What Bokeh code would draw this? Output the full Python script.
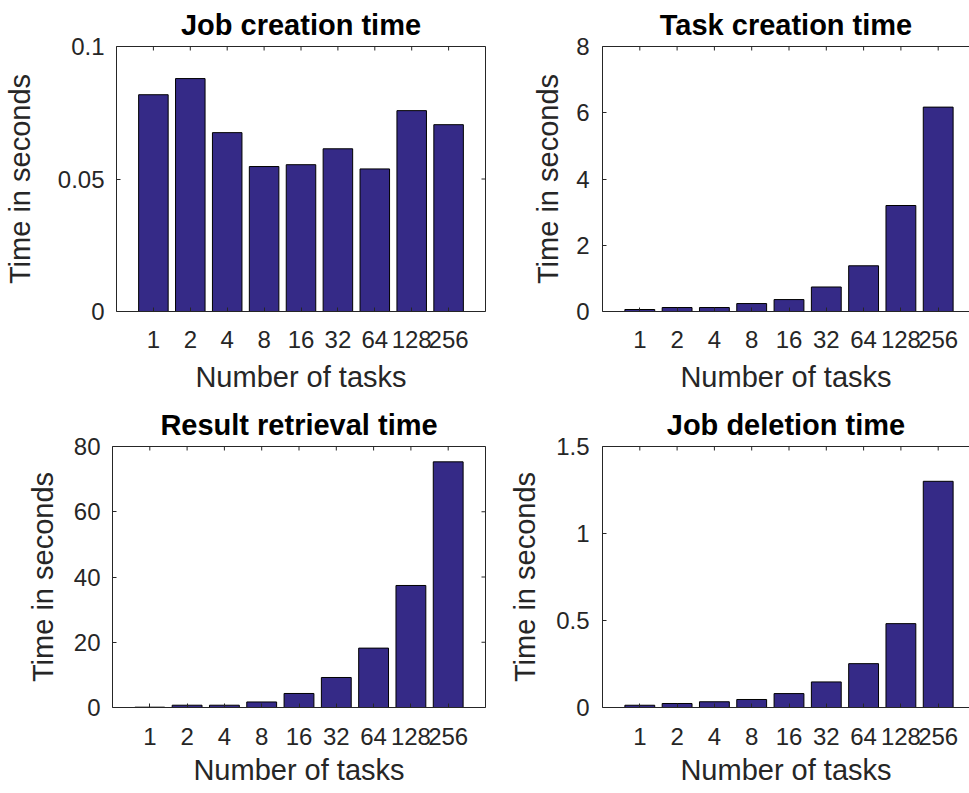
import math
from bokeh.plotting import figure
from bokeh.models import FixedTicker, LinearAxis, Range1d
from bokeh.layouts import column, row
from bokeh.embed import file_html
from bokeh.resources import INLINE

# ---------------- data ----------------
tasks = ["1", "2", "4", "8", "16", "32", "64", "128", "256"]

job_creation = [0.0818, 0.0879, 0.0675, 0.0547, 0.0554, 0.0614, 0.0538, 0.0758, 0.0705]
task_creation = [0.06, 0.12, 0.12, 0.24, 0.36, 0.74, 1.38, 3.20, 6.17]
result_retrieval = [0.1, 0.7, 0.7, 1.7, 4.3, 9.2, 18.2, 37.4, 75.3]
job_deletion = [0.013, 0.023, 0.033, 0.046, 0.080, 0.147, 0.252, 0.482, 1.30]

job_creation_ticks = [0, 0.05, 0.1]
job_creation_labels = ["0", "0.05", "0.1"]
task_creation_ticks = [0, 2, 4, 6, 8]
task_creation_labels = ["0", "2", "4", "6", "8"]
result_retrieval_ticks = [0, 20, 40, 60, 80]
result_retrieval_labels = ["0", "20", "40", "60", "80"]
job_deletion_ticks = [0, 0.5, 1, 1.5]
job_deletion_labels = ["0", "0.5", "1", "1.5"]

titles = ["Job creation time", "Task creation time",
          "Result retrieval time", "Job deletion time"]
x_title = "Number of tasks"
y_title = "Time in seconds"

# ---------------- style ----------------
BAR = "#352a87"
AX = "#262626"
FONT = "Liberation Sans"
TICK_FS = "24px"
LABEL_FS = "29px"
TITLE_FS = "29px"

positions = list(range(1, len(tasks) + 1))
x_overrides = {p: t for p, t in zip(positions, tasks)}


def style_axis(ax):
    ax.axis_line_color = AX
    ax.axis_line_width = 1
    ax.major_tick_line_color = AX
    ax.major_tick_in = 4
    ax.major_tick_out = 0
    ax.minor_tick_line_color = None
    ax.major_label_text_font = FONT
    ax.major_label_text_font_size = TICK_FS
    ax.major_label_text_color = AX
    ax.axis_label_text_font = FONT
    ax.axis_label_text_font_size = LABEL_FS
    ax.axis_label_text_font_style = "normal"
    ax.axis_label_text_color = AX


def panel(title, values, yticks, ylabels, width, height, left, right, top, bottom,
          x_end, right_axis, ytick_so, ylabel_so, xtick_so, xlabel_so):
    p = figure(width=width, height=height,
               x_range=Range1d(0, x_end),
               y_range=Range1d(yticks[0], yticks[-1]),
               output_backend="svg", toolbar_location=None,
               min_border_left=left, min_border_right=right,
               min_border_top=top, min_border_bottom=bottom)
    p.outline_line_color = None
    p.background_fill_color = "white"
    p.border_fill_color = "white"
    p.xgrid.visible = False
    p.ygrid.visible = False

    p.vbar(x=positions, top=values, bottom=0, width=0.8,
           fill_color=BAR, line_color="black", line_width=1)

    xa = p.xaxis[0]
    style_axis(xa)
    xa.ticker = FixedTicker(ticks=positions)
    xa.major_label_overrides = x_overrides
    xa.major_label_standoff = xtick_so
    xa.axis_label = x_title
    xa.axis_label_standoff = xlabel_so

    ya = p.yaxis[0]
    style_axis(ya)
    ya.ticker = FixedTicker(ticks=yticks)
    ya.major_label_overrides = {t: l for t, l in zip(yticks, ylabels)}
    ya.major_label_standoff = ytick_so
    ya.axis_label = y_title
    ya.axis_label_standoff = ylabel_so

    # box lines (top, and right where visible) without labels
    top_ax = LinearAxis(ticker=FixedTicker(ticks=[]))
    style_axis(top_ax)
    top_ax.major_label_standoff = 0
    p.add_layout(top_ax, "above")
    # inward tick marks on the top edge (clipped to the frame)
    p.scatter(x=positions, y=[yticks[-1]] * len(positions), marker="dash",
              angle=math.pi / 2, size=8, line_color=AX, line_width=1)

    if right_axis:
        r_ax = LinearAxis(ticker=FixedTicker(ticks=[]))
        style_axis(r_ax)
        r_ax.major_label_standoff = 0
        p.add_layout(r_ax, "right")
        p.scatter(x=[x_end] * len(yticks), y=yticks, marker="dash",
                  size=8, line_color=AX, line_width=1)

    p.title.text = title
    p.title.align = "center"
    p.title.text_font = FONT
    p.title.text_font_size = TITLE_FS
    p.title.text_font_style = "bold"
    p.title.text_color = "black"
    p.title.standoff = 12
    return p


W1, W2 = 488, 481
L1, L2 = 112, 114
R1, R2 = 3, 0
fw1 = W1 - L1 - R1
fw2 = W2 - L2 - R2
x_end1 = len(tasks) + 1
x_end2 = x_end1 * fw2 / fw1

H1, H2 = 400, 393

p1 = panel(titles[0], job_creation, job_creation_ticks, job_creation_labels,
           W1, H1, L1, R1, 46, 89, x_end1, True, 12, 19, 19, 10)
p2 = panel(titles[1], task_creation, task_creation_ticks, task_creation_labels,
           W2, H1, L2, R2, 46, 89, x_end2, False, 13, 9, 19, 10)
p3 = panel(titles[2], result_retrieval, result_retrieval_ticks, result_retrieval_labels,
           W1, H2, L1, R1, 45, 86, x_end1, True, 12, 12, 20, 6)
p4 = panel(titles[3], job_deletion, job_deletion_ticks, job_deletion_labels,
           W2, H2, L2, R2, 45, 86, x_end2, False, 13, 12, 20, 6)

layout = column(row(p1, p2), row(p3, p4))

open("out.html", "w").write(file_html(layout, INLINE))
